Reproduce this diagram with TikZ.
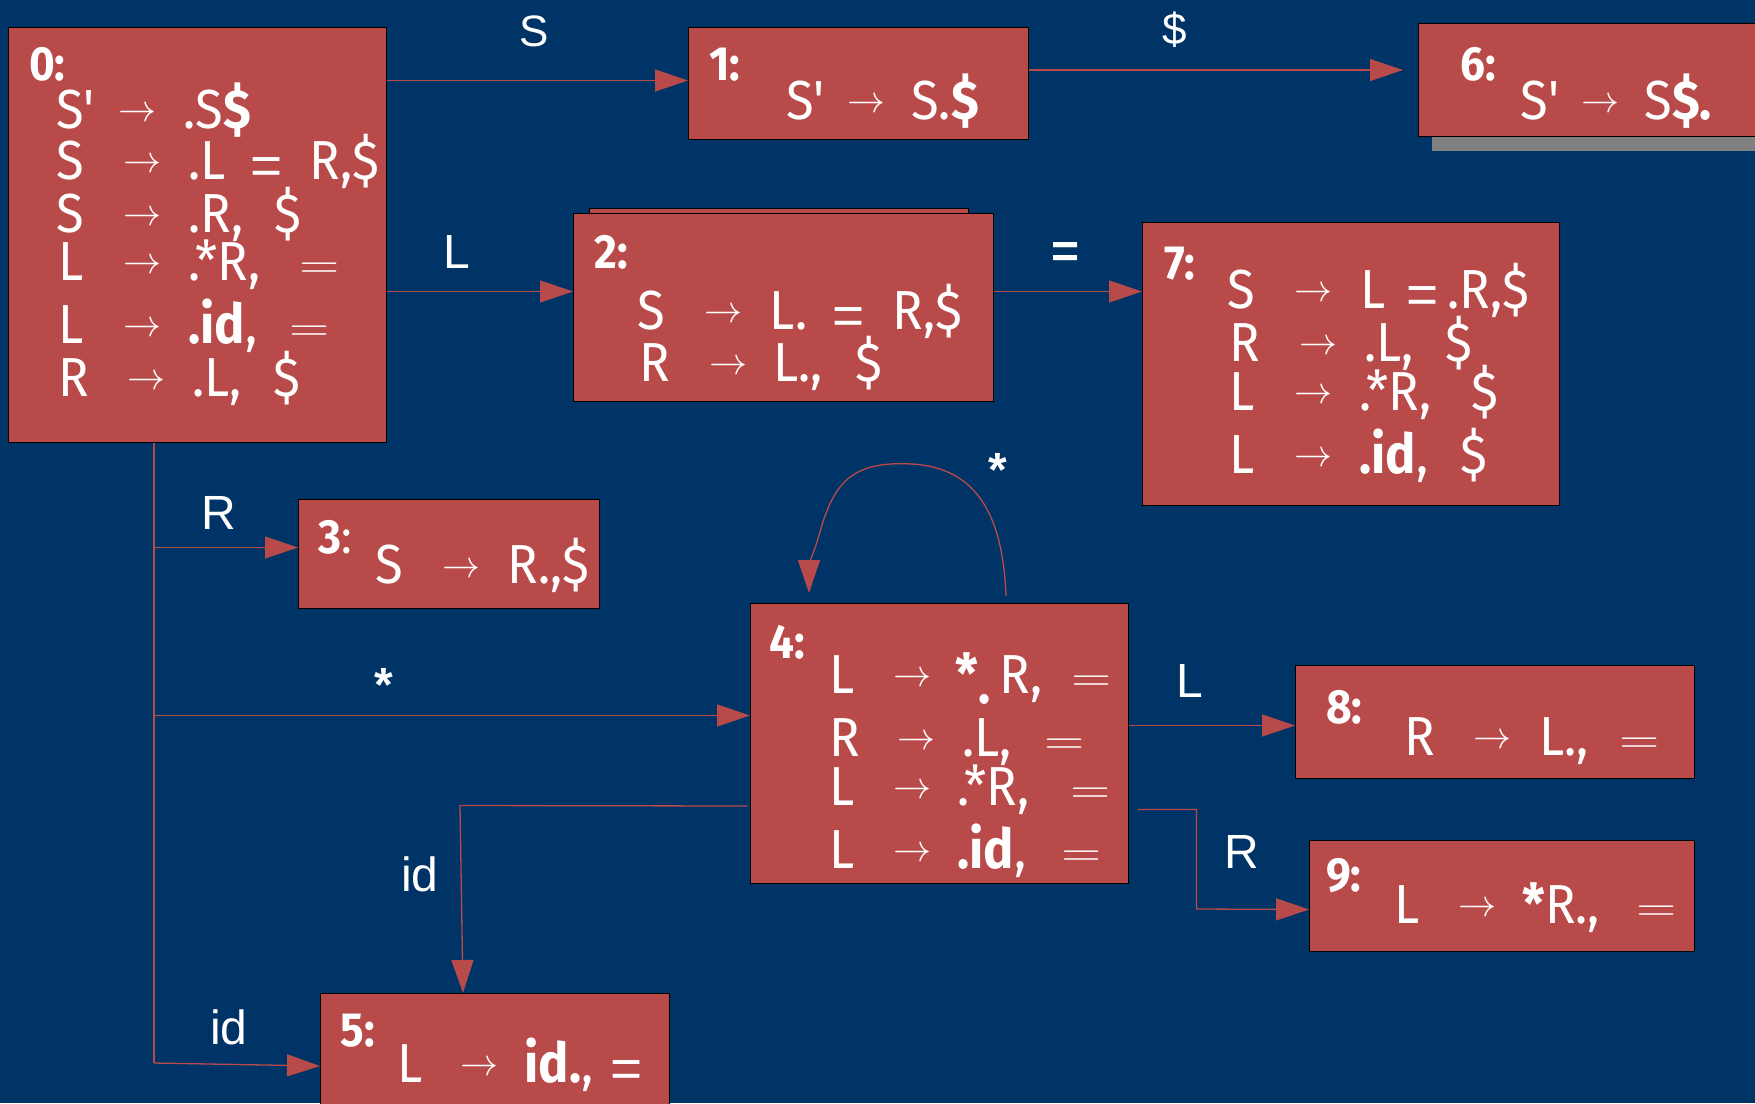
\RequirePackage{fix-cm}
\documentclass[tikz,border=0pt]{standalone}
\usepackage[no-math]{fontspec}
\setmainfont{Fira Sans}[FakeStretch=0.92]
\newfontfamily\lblf{Liberation Sans}
\usetikzlibrary{arrows.meta,calc}
\definecolor{bgblue}{RGB}{0,51,102}
\definecolor{boxred}{RGB}{185,74,74}
\definecolor{shadowgray}{RGB}{128,128,128}
\newdimen\pxu \pxu=0.5pt
\newcommand\pp[2]{\makebox[0pt][l]{\hspace*{#1\pxu}#2}}
\newcommand\arr{\raisebox{3.25pt}{\fontsize{19pt}{19pt}\selectfont$\rightarrow$}}
\newcommand\eqn{\raisebox{1pt}{\scalebox{1.45}[1.15]{\fontsize{19pt}{19pt}\selectfont$=$}}}
\newcommand\eqk{\raisebox{-2.5pt}{\lblf =}}
\newcommand\pr{\textquotesingle}
\begin{document}
\begin{tikzpicture}[x=0.5pt,y=-0.5pt,
  statebox/.style={draw=black, line width=0.5pt, fill=boxred, inner sep=0pt, anchor=north west},
  plainline/.style={draw=boxred, line width=0.65pt},
  conn/.style={plainline, -{Triangle[length=16.5pt,width=11pt]}},
  itemtxt/.style={anchor=base west, inner sep=0pt, text=white, font=\fontsize{27.5pt}{27.5pt}\selectfont},
  numlbl/.style={anchor=base west, inner sep=0pt, text=white, font=\fontsize{24pt}{24pt}\selectfont\bfseries},
  edgelbl/.style={anchor=base, inner sep=0pt, text=white, font=\lblf\fontsize{24pt}{24pt}\selectfont},
  boldlbl/.style={edgelbl, font=\lblf\fontsize{24pt}{24pt}\selectfont\bfseries}]
\useasboundingbox (0,0) rectangle (1755,1103);
\clip (0,0) rectangle (1755,1103);
\fill[bgblue] (0,0) rectangle (1755,1103);

% shadow of state 6 and back sheet of state 2
\fill[shadowgray] (1432,136) rectangle (1770,151);
\node[statebox, minimum width=189.5pt, minimum height=50pt] (b2back) at (589,208) {};

% states
\node[statebox, minimum width=189pt, minimum height=207.5pt] (b0) at (8,27) {};
\node[statebox, minimum width=170pt, minimum height=56pt] (b1) at (688,27) {};
\node[statebox, minimum width=180pt, minimum height=56.5pt] (b6) at (1418,23) {};
\node[statebox, minimum width=210pt, minimum height=94pt] (b2) at (573,213) {};
\node[statebox, minimum width=208.5pt, minimum height=141.5pt] (b7) at (1142,222) {};
\node[statebox, minimum width=150.5pt, minimum height=54.5pt] (b3) at (298,499) {};
\node[statebox, minimum width=189pt, minimum height=140pt] (b4) at (750,603) {};
\node[statebox, minimum width=199.5pt, minimum height=56.5pt] (b8) at (1295,665) {};
\node[statebox, minimum width=192.5pt, minimum height=55.5pt] (b9) at (1309,840) {};
\node[statebox, minimum width=174.5pt, minimum height=65pt] (b5) at (320,993) {};

% state 0
\node[numlbl] (n0) at (28.7,80) {0:};
\node[itemtxt] (r01) at (55,128) {\pp{0}{S\pr}\pp{62}{\arr}\pp{127}{.S\textbf{\$}}};
\node[itemtxt] (r02) at (55,179) {\pp{0}{S}\pp{67}{\arr}\pp{132}{.L}\pp{194}{\eqk}\pp{253}{R,\$}};
\node[itemtxt] (r03) at (55,232) {\pp{0}{S}\pp{67}{\arr}\pp{132}{.R,}\pp{218}{\$}};
\node[itemtxt] (r04) at (57,280) {\pp{0}{L}\pp{65}{\arr}\pp{130}{.*R,}\pp{241}{\eqn}};
\node[itemtxt] (r05) at (57,343) {\pp{0}{L}\pp{65}{\arr}\pp{130}{\textbf{.id},}\pp{231}{\eqn}};
\node[itemtxt] (r06) at (57,396) {\pp{0}{R}\pp{69}{\arr}\pp{134}{.L,}\pp{215}{\$}};
% state 1
\node[numlbl] (n1) at (709,80) {1:};
\node[itemtxt] (r11) at (785,119) {\pp{0}{S\pr}\pp{61}{\arr}\pp{125}{S.\textbf{\$}}};
% state 6
\node[numlbl] (n6) at (1460,80) {6:};
\node[itemtxt] (r61) at (1519,119) {\pp{0}{S\pr}\pp{61}{\arr}\pp{124}{S\textbf{\$.}}};
% state 2
\node[numlbl] (n2) at (594,268) {2:};
\node[itemtxt] (r21) at (636.5,329) {\pp{0}{S}\pp{66.5}{\arr}\pp{132}{L.}\pp{195}{\eqk}\pp{254.5}{R,\$}};
\node[itemtxt] (r22) at (638,381) {\pp{0}{R}\pp{70}{\arr}\pp{134}{L.,}\pp{216}{\$}};
% state 7
\node[numlbl] (n7) at (1164.5,279) {7:};
\node[itemtxt] (r71) at (1226,308) {\pp{0}{S}\pp{67}{\arr}\pp{133}{L}\pp{179.5}{\eqk}\pp{220}{.R,\$}};
\node[itemtxt] (r72) at (1228.5,361) {\pp{0}{R}\pp{69.5}{\arr}\pp{134.5}{.L,}\pp{215.5}{\$}};
\node[itemtxt] (r73) at (1228,410) {\pp{0}{L}\pp{65}{\arr}\pp{130}{.*R,}\pp{242}{\$}};
\node[itemtxt] (r74) at (1228,473) {\pp{0}{L}\pp{65}{\arr}\pp{130}{\textbf{.id},}\pp{231}{\$}};
% state 3
\node[numlbl] (n3) at (318,553.6) {3\textmd{:}};
\node[itemtxt] (r31) at (374,583.6) {\pp{0}{S}\pp{67}{\arr}\pp{132}{R.,\$}};
% state 4
\node[numlbl] (n4) at (769,658) {4:};
\node[itemtxt] (r41) at (828,693) {\pp{0}{L}\pp{64}{\arr}\pp{126}{\textbf{*}}\pp{149}{\raisebox{-10\pxu}{\textbf{.}}}\pp{170}{R,}\pp{242}{\eqn}};
\node[itemtxt] (r42) at (828,756) {\pp{0}{R}\pp{68}{\arr}\pp{133}{.L,}\pp{215}{\eqn}};
\node[itemtxt] (r43) at (828,805) {\pp{0}{L}\pp{64}{\arr}\pp{128}{.*R,}\pp{241}{\eqn}};
\node[itemtxt] (r44) at (828,868) {\pp{0}{L}\pp{64}{\arr}\pp{128}{\textbf{.id},}\pp{232}{\eqn}};
% state 8
\node[numlbl] (n8) at (1325.7,723) {8:};
\node[itemtxt] (r81) at (1403,755) {\pp{0}{R}\pp{69}{\arr}\pp{135}{L.,}\pp{215}{\eqn}};
% state 9
\node[numlbl] (n9) at (1325.7,891.7) {9:};
\node[itemtxt] (r91) at (1393,923) {\pp{0}{L}\pp{64}{\arr}\pp{128}{\textbf{*}R.,}\pp{242}{\eqn}};
% state 5
\node[numlbl] (n5) at (340,1046) {5:};
\node[itemtxt] (r51) at (396,1082) {\pp{0}{L}\pp{63}{\arr}\pp{127}{\textbf{id.},}\pp{213}{\eqk}};

% connectors
\coordinate (e01) at ($(b1.west)+(0,-3)$);
\draw[conn] (e01 -| b0.east) -- (e01);
\coordinate (e16) at ($(b6.north west)+(-15,47)$);
\draw[conn] (e16 -| b1.east) -- (e16);
\coordinate (e02) at ($(b2.west)+(0,-16)$);
\draw[conn] (e02 -| b0.east) -- (e02);
\coordinate (e27) at ($(b7.west)+(0,-72.5)$);
\draw[conn] (e27 -| b2.east) -- (e27);

\coordinate (t0) at ($(b0.south west)+(146,0)$);
\coordinate (t1) at ($(b5.north west)+(-166,70)$);
\draw[plainline] (t0) -- (t1);
\coordinate (e03) at ($(b3.west)+(0,-6.5)$);
\draw[conn] (e03 -| t0) -- (e03);
\coordinate (e04) at ($(b4.west)+(0,-28)$);
\draw[conn] (e04 -| t0) -- (e04);
\coordinate (e05) at ($(b5.north west)+(0,73)$);
\draw[conn] (t1) -- (e05);

\coordinate (s45) at ($(b4.west)+(-3,62.5)$);
\coordinate (k45) at (460,805.5);
\coordinate (e45) at ($(b5.north west)+(143,0)$);
\draw[conn] (s45) -- (k45) -- (e45);

\coordinate (l4s) at ($(b4.north west)+(256,-7)$);
\coordinate (l4e) at ($(b4.north west)+(59,-10)$);
\draw[conn] (l4s) .. controls (1003,520) and (980,468) .. (912,464)
  .. controls (855,461) and (836,480) .. (822,525)
  .. controls (815,550) and (809,565) .. (l4e);

\coordinate (e48) at ($(b8.west)+(0,3.5)$);
\draw[conn] (e48 -| b4.east) -- (e48);
\coordinate (s49) at ($(b4.east)+(8.5,66)$);
\coordinate (e49) at ($(b9.west)+(0,13.5)$);
\coordinate (k49) at (1196.5,909);
\draw[conn] (s49) -| (k49) -- (e49);

% transition labels
\node[edgelbl, font=\lblf\fontsize{22pt}{22pt}\selectfont] (lS) at (534,46.7) {S};
\node[edgelbl, font=\lblf\fontsize{22pt}{22pt}\selectfont] (lD) at (1175,44) {\$};
\node[edgelbl] (lL1) at (457,268) {L};
\node[boldlbl] (lEq) at (1065,267) {=};
\node[edgelbl] (lR1) at (219,529.6) {R};
\node[boldlbl] (lSt1) at (384,701) {*};
\node[boldlbl] (lSt2) at (998,486) {*};
\node[edgelbl] (lL2) at (1190,697) {L};
\node[edgelbl] (lid1) at (420,891) {id};
\node[edgelbl] (lR2) at (1242,868) {R};
\node[edgelbl] (lid2) at (229,1044.6) {id};
\end{tikzpicture}
\end{document}
